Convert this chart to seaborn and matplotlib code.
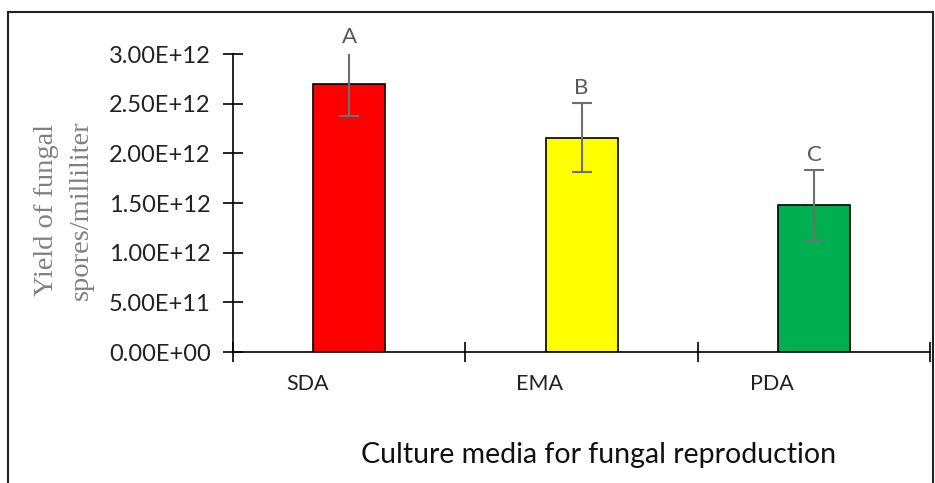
import numpy as np
import pandas as pd
import seaborn as sns
import matplotlib.pyplot as plt
import matplotlib.transforms as mtransforms
from matplotlib.patches import Rectangle

# values
media = ["SDA", "EMA", "PDA"]
yields = [2.70e12, 2.16e12, 1.48e12]
errors = [0.32e12, 0.35e12, 0.35e12]
letters = ["A", "B", "C"]
colors = ["#ff0000", "#ffff00", "#00b050"]

df = pd.DataFrame({"media": media, "yield": yields})

sns.set_style("white")
plt.rcParams["font.family"] = ["Lato", "DejaVu Sans"]

fig = plt.figure(figsize=(9.35, 4.83), dpi=100)
ax = fig.add_axes([0.249, 0.271, 0.746, 0.617])

sns.barplot(data=df, x="media", y="yield", hue="media", palette=colors,
            saturation=1, legend=False, width=0.31, edgecolor="black",
            linewidth=1.2, ax=ax)
ax.errorbar(range(len(media)), yields, yerr=errors, fmt="none",
            ecolor="#6f6f6f", elinewidth=1.5, capsize=7, capthick=1.5)

for i, (y, e, lab) in enumerate(zip(yields, errors, letters)):
    ax.text(i, y + e + 0.05e12, lab, ha="center", va="bottom",
            fontsize=16, color="#595959")

ax.set_xlim(-0.5, 2.5)
ax.set_ylim(0, 3e12)
ticks = np.arange(0, 3.01e12, 0.5e12)
ax.set_yticks(ticks)
ax.set_yticklabels(["%.2E" % t for t in ticks], fontsize=17, color="#222222")
ax.tick_params(axis="y", left=True, direction="inout", length=14, width=1.2,
               color="black", pad=9)

ax.set_xticks(range(len(media)))
ax.set_xticklabels(media, fontsize=15.5, color="#222222")
ax.set_xticks([-0.5, 0.5, 1.5, 2.5], minor=True)
ax.tick_params(axis="x", which="major", bottom=True, length=0, pad=16)
ax.tick_params(axis="x", which="minor", bottom=True, direction="inout",
               length=14, width=1.2, color="black")
# the category labels sit a little left of the bars in the original
shift = mtransforms.ScaledTranslation(-0.42, 0, fig.dpi_scale_trans)
for lab in ax.get_xticklabels():
    lab.set_transform(lab.get_transform() + shift)

for s in ["top", "right"]:
    ax.spines[s].set_visible(False)
for s in ["left", "bottom"]:
    ax.spines[s].set_color("black")
    ax.spines[s].set_linewidth(1.2)

ax.set_xlabel("Culture media for fungal reproduction", fontsize=20.5,
              color="#111111", va="center")
ax.xaxis.set_label_coords((598 - 233) / 697, -0.345)
ax.set_ylabel("")
fig.text(0.050, 0.565, "Yield of fungal", rotation=90, ha="center", va="center",
         fontsize=20.5, color="#808080", family="Liberation Serif")
fig.text(0.087, 0.565, "spores/milliliter", rotation=90, ha="center", va="center",
         fontsize=20.5, color="#808080", family="Liberation Serif")

# outer border around the chart area
fig.patches.append(Rectangle((8 / 935, -0.05), 925 / 935, 1.05 - 12 / 483,
                             transform=fig.transFigure, fill=False,
                             edgecolor="#222222", linewidth=1.5))

fig.savefig("out.png", dpi=100)
